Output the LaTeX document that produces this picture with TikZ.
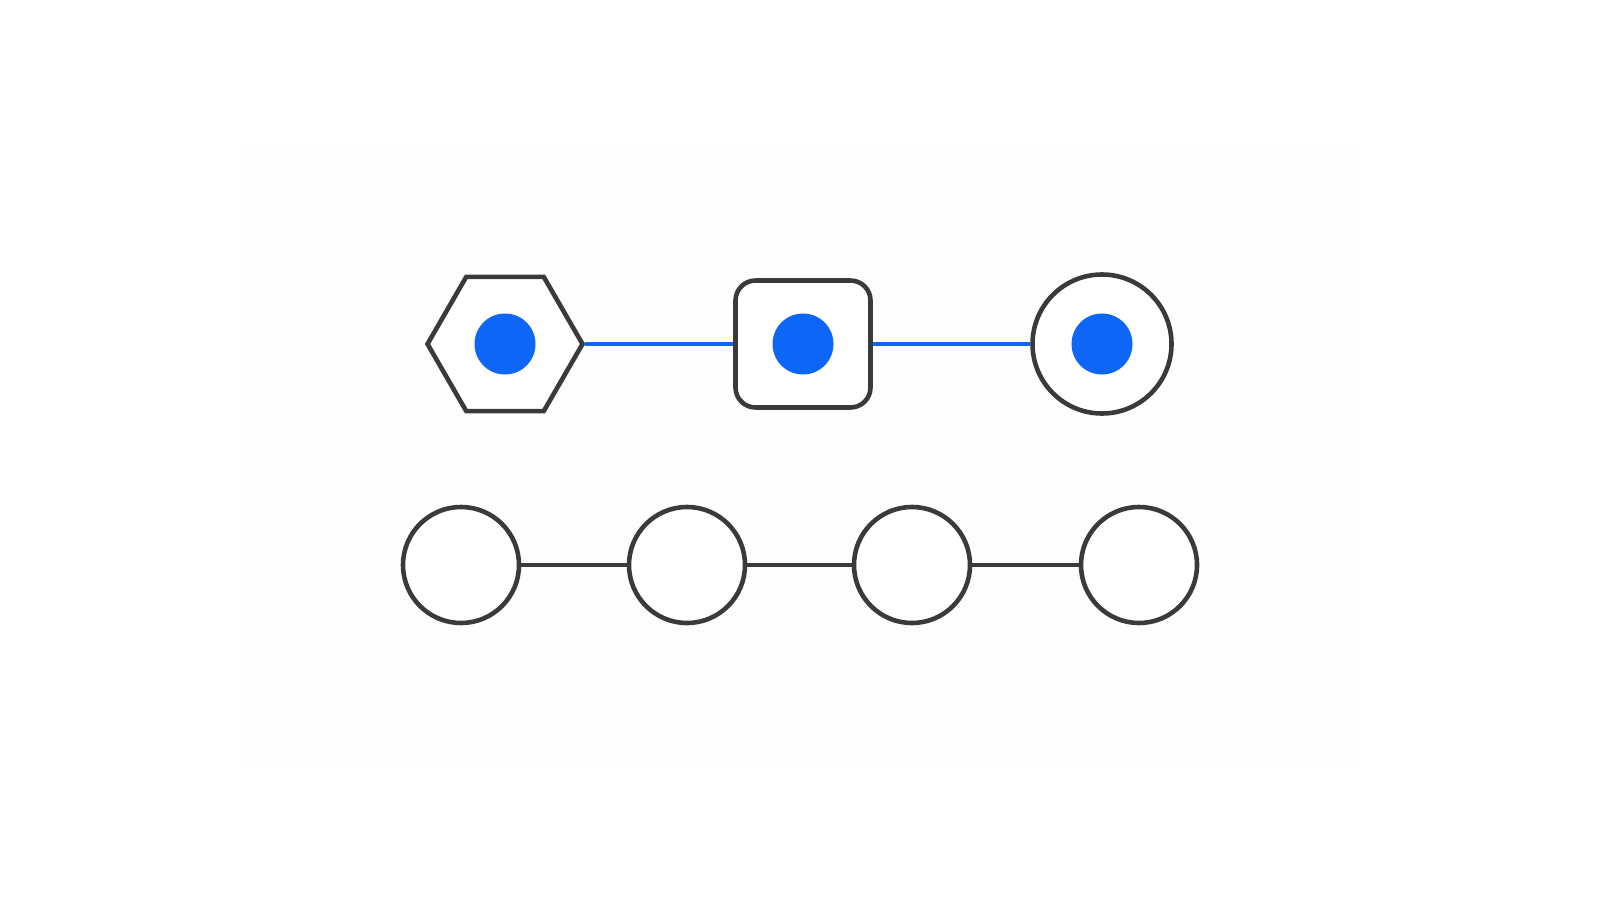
\documentclass[tikz,border=0pt]{standalone}
\usepackage{xcolor}
\usepackage{tikz}
\usetikzlibrary{shapes.geometric, positioning}
\definecolor{inkdark}{HTML}{3A3A3A}
\definecolor{dotblue}{HTML}{0D66F6}
\definecolor{panel}{HTML}{FDFDFD}

\begin{document}
\begin{tikzpicture}[scale=1.00,
    shell/.style={draw=inkdark, line width=1.3pt, fill=white, inner sep=0pt},
    core/.style={circle, fill=dotblue, inner sep=0pt, minimum size=0.61cm},
    bluelink/.style={draw=dotblue, line width=1.2pt},
    darklink/.style={draw=inkdark, line width=1.3pt}]
  % canvas 16 x 9 cm, faint panel behind
  \useasboundingbox (0,0) rectangle (16,9);
  \fill[panel] (2.40,1.33) rectangle (13.60,7.57);

  % top row: hexagon, rounded square, circle
  \node[shell, regular polygon, regular polygon sides=6, minimum size=1.55cm]
    (hexa) at (5.05,5.56) {};
  \node[shell, rectangle, rounded corners=0.2cm,
        minimum width=1.35cm, minimum height=1.27cm]
    (squa) at (8.03,5.56) {};
  \node[shell, circle, minimum size=1.39cm] (ring) at (11.02,5.56) {};

  \draw[bluelink] (hexa.east) -- (squa.west);
  \draw[bluelink] (squa.east) -- (ring.west);

  \node[core] (hexadot) at (hexa.center) {};
  \node[core] (squadot) at (squa.center) {};
  \node[core] (ringdot) at (ring.center) {};

  % bottom row: four plain circles
  \foreach \i/\xc in {1/4.61, 2/6.87, 3/9.12, 4/11.39}{
    \node[shell, circle, minimum size=1.16cm] (bead\i) at (\xc,3.35) {};
  }
  \foreach \a/\b in {1/2, 2/3, 3/4}{
    \draw[darklink] (bead\a.east) -- (bead\b.west);
  }
\end{tikzpicture}
\end{document}
